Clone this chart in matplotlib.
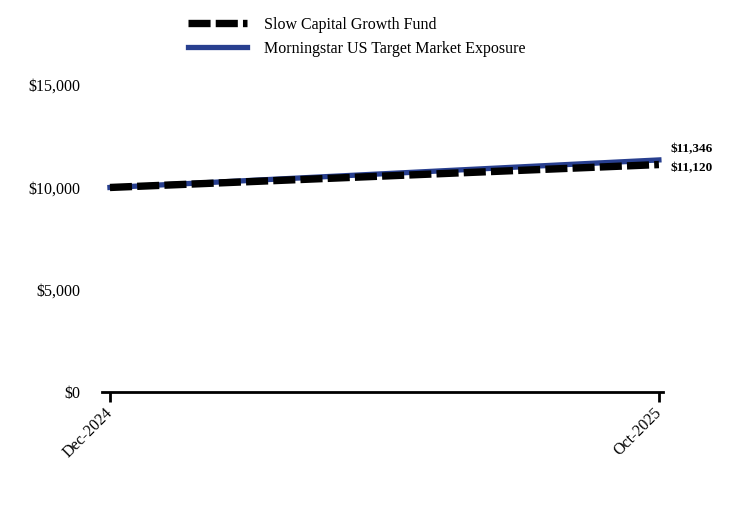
import numpy as np
import matplotlib.pyplot as plt

dates = ['Dec-2024', 'Oct-2025']
fund = [10000, 11120]
index = [10000, 11346]
fund_name = 'Slow Capital Growth Fund'
index_name = 'Morningstar US Target Market Exposure'
yticks = [0, 5000, 10000, 15000]

plt.rcParams['font.family'] = ['Liberation Serif', 'DejaVu Serif']

fig = plt.figure(figsize=[7.44, 5.16], dpi=100)
ax = fig.add_axes([0.137, 0.240, 0.754, 0.595])

x = np.arange(len(dates))
ax.plot(x, index, color='#283F8F', linewidth=3.8, label=index_name, zorder=2)
ax.plot(x, fund, color='black', linewidth=5.3, dashes=(3, 0.7), label=fund_name, zorder=3)

ax.set_xlim(-0.0146, 1.0073)
ax.set_ylim(0, 15000)
ax.set_yticks(yticks)
ax.set_yticklabels(['${:,}'.format(v) for v in yticks], fontsize=11.5)
ax.tick_params(axis='y', length=0, pad=15.5)
ax.set_xticks(x)
ax.set_xticklabels(dates, rotation=45, ha='right', va='center', rotation_mode='anchor', fontsize=11.5)
ax.tick_params(axis='x', direction='out', length=7, width=2, pad=6)

for s in ['top', 'right', 'left']:
    ax.spines[s].set_visible(False)
ax.spines['bottom'].set_linewidth(2)

ax.annotate('${:,}'.format(index[-1]), (x[-1], index[-1]), xytext=(8, 7.5),
            textcoords='offset points', fontsize=9.5, fontweight='bold', va='center')
ax.annotate('${:,}'.format(fund[-1]), (x[-1], fund[-1]), xytext=(8, -2.5),
            textcoords='offset points', fontsize=9.5, fontweight='bold', va='center')

h, l = ax.get_legend_handles_labels()
fig.legend(h[::-1], l[::-1], loc='upper left', bbox_to_anchor=(0.233, 0.995), frameon=False,
           fontsize=11.5, handlelength=3.7, handletextpad=1.1, labelspacing=0.5)

plt.savefig('out.png', dpi=100)
